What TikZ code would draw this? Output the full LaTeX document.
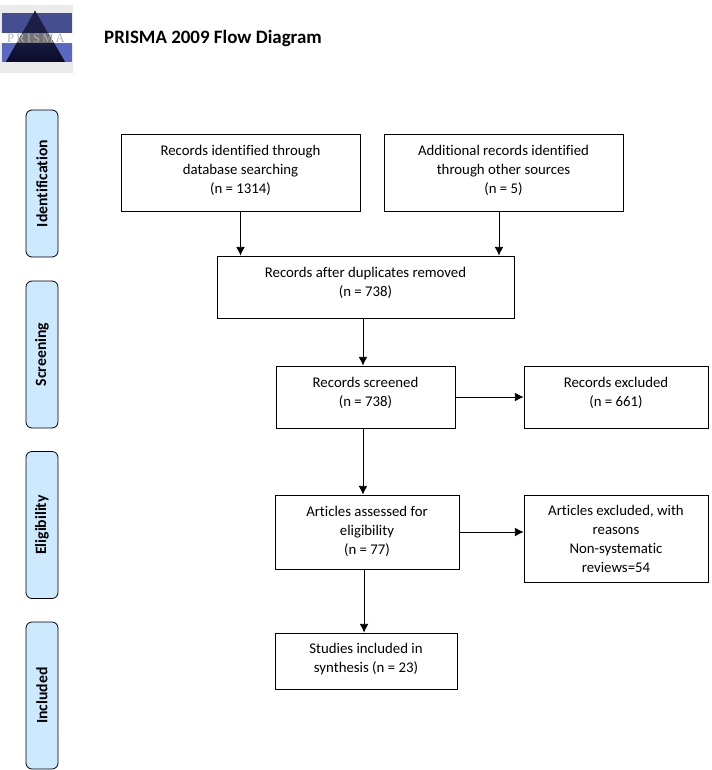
\documentclass[tikz,border=0pt]{standalone}
\usepackage{fontspec}
\setmainfont[Ligatures=NoCommon]{Carlito}
\newfontfamily\logofont{Liberation Serif}
\usepackage{xcolor}
\usetikzlibrary{arrows.meta,positioning}
\definecolor{sidefill}{HTML}{CCE9FD}
\definecolor{logoblue}{HTML}{5A68C0}
\definecolor{logodark}{HTML}{0C0C28}
\tikzstyle{arrow} = [semithick,-{Latex[length=6.5pt,width=6.5pt]}]
\tikzstyle{flowbox} = [draw=black,semithick,align=center,font=\fontsize{11.1}{14.25}\selectfont,inner sep=0pt]
\tikzstyle{sidebox} = [draw=black,fill=sidefill,semithick,rounded corners=4.5pt,minimum width=110.25pt,minimum height=24pt,rotate=90,font=\fontsize{11.8}{13}\selectfont\bfseries]

\begin{document}
\begin{tikzpicture}[x=0.75pt,y=-0.75pt]
    \useasboundingbox (0,0) rectangle (712,770);

    % logo
    \fill[black!8] (0,5) rectangle (73,73);
    \fill[logoblue!75!black] (2,13) rectangle (72,33);
    \fill[logoblue] (2,43) rectangle (72,62);
    \fill[white] (0,33) rectangle (73,43);
    \fill[top color=logoblue!55!black,bottom color=logodark,middle color=logodark!80!logoblue] (35,11) -- (65,62) -- (6,62) -- cycle;
    \fill[black!55] (29.2,33) -- (40.8,21) -- (47.9,33) -- (53.7,43) -- (16.9,43) -- (23,33) -- cycle;
    \fill[logodark!80!logoblue] (35,11) -- (47.9,33) -- (22.8,33) -- cycle;
    \node[text=black!30,font=\logofont\fontsize{9.5}{9.5}\selectfont,inner sep=0pt] (logotext) at (36,38) {P\,R\,I\,S\,M\,A};

    \node[font=\fontsize{14.2}{16}\selectfont\bfseries] (title) at (213,38) {PRISMA 2009 Flow Diagram};

    % phases
    \node[sidebox] (identification) at (42,183.5) {Identification};
    \node[sidebox] (screening) at (42,354.5) {Screening};
    \node[sidebox] (eligibility) at (42,525) {Eligibility};
    \node[sidebox] (included) at (42,695.5) {Included};

    % boxes
    \node[flowbox,minimum width=179.25pt,minimum height=57.75pt] (qf1) at (240.5,172.5) {Records identified through\\database searching\\(n = 1314)\\[-9pt]};
    \node[flowbox,minimum width=179.25pt,minimum height=57.75pt] (qf2) at (503.5,172.5) {Additional records identified\\through other sources\\(n = 5)\\[-9pt]};
    \node[flowbox,minimum width=222.75pt,minimum height=46.5pt] (qf3) at (365.5,287) {Records after duplicates removed\\(n = 738)\\[-6pt]};
    \node[flowbox,minimum width=134.25pt,minimum height=46.5pt] (qf4) at (365.5,397) {Records screened\\(n = 738)\\[-6pt]};
    \node[flowbox,minimum width=138pt,minimum height=46.5pt] (qf5) at (616,397) {Records excluded\\(n = 661)\\[-6pt]};
    \node[flowbox,minimum width=138pt,minimum height=55.5pt] (qf6) at (367,532) {Articles assessed for\\eligibility\\(n = 77)\\[-11.25pt]};
    \node[flowbox,minimum width=138pt,minimum height=65.25pt] (qf7) at (616,538.5) {Articles excluded, with\\reasons\\Non-systematic\\reviews=54};
    \node[flowbox,minimum width=136.5pt,minimum height=42pt] (qf8) at (366,661) {Studies included in\\synthesis (n = 23)\\[-9pt]};

    \draw [arrow] (qf1.south) -- (qf1.south |- qf3.north);
    \draw [arrow] ([xshift=-3.4pt]qf2.south) -- ([xshift=-3.4pt]qf2.south |- qf3.north);
    \draw [arrow] ([xshift=-1.9pt]qf3.south) -- ([xshift=-1.9pt]qf3.south |- qf4.north);
    \draw [arrow] (qf4.east) -- (qf5.west);
    \draw [arrow] ([xshift=-1.9pt]qf4.south) -- ([xshift=-1.9pt]qf4.south |- qf6.north);
    \draw [arrow] (qf6) -- (qf6 -| qf7.west);
    \draw [arrow] ([xshift=-2.2pt]qf6.south) -- ([xshift=-2.2pt]qf6.south |- qf8.north);
\end{tikzpicture}
\end{document}
